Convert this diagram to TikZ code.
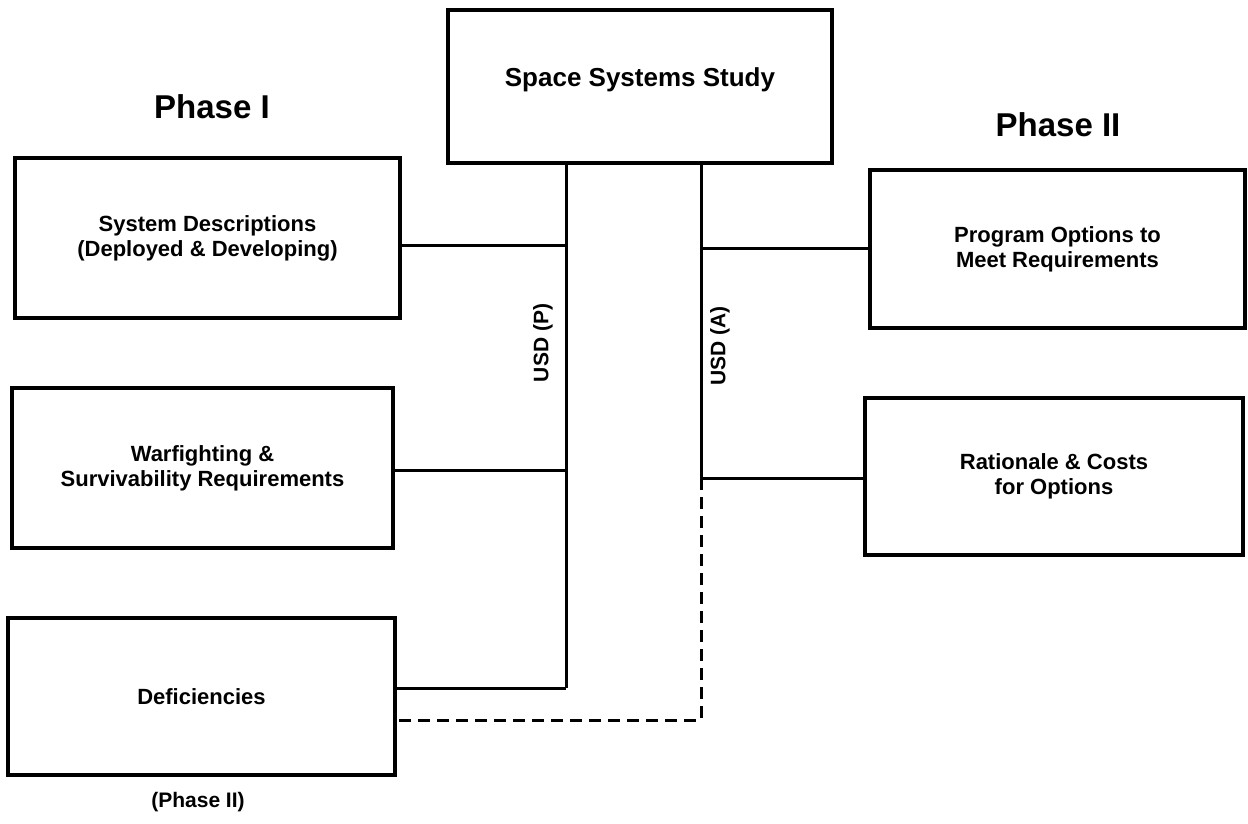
\documentclass[tikz,border=0pt]{standalone}
\usepackage{fontspec}
\setmainfont{Liberation Sans}
\begin{document}
\begin{tikzpicture}[x=1pt,y=-1pt,
  box/.style={draw,line width=3.5pt,rectangle,inner sep=0pt,align=center,font=\bfseries\fontsize{22}{25}\selectfont},
  conn/.style={line width=3pt},
  dconn/.style={line width=3pt,dash pattern=on 12pt off 7pt},
  phase/.style={font=\bfseries\fontsize{33}{38}\selectfont},
  usd/.style={font=\bfseries\fontsize{21}{24}\selectfont,rotate=90}]
\useasboundingbox[fill=white] (0,0) rectangle (1248,824);
% boxes
\node[box,minimum width=384pt,minimum height=153pt] (SSS) at (640,86.5) {};
\node[font=\bfseries\fontsize{26}{30}\selectfont] (SSSt) at (640,80) {Space Systems Study};
\node[box,minimum width=385pt,minimum height=160pt] (SD) at (207.5,238) {System Descriptions\\(Deployed \& Developing)};
\node[box,minimum width=381pt,minimum height=160pt] (WS) at (202.5,468) {Warfighting \&\\Survivability Requirements};
\node[box,minimum width=387pt,minimum height=157pt] (DEF) at (201.5,696.5) {Deficiencies};
\node[box,minimum width=375pt,minimum height=158pt] (PO) at (1057.5,249) {Program Options to\\Meet Requirements};
\node[box,minimum width=378pt,minimum height=157pt] (RC) at (1054,476.5) {Rationale \& Costs\\for Options};
% labels
\node[phase] (P1) at (212,107) {Phase I};
\node[phase] (P2) at (1058,125) {Phase II};
\node[font=\bfseries\fontsize{21}{24}\selectfont] (P2b) at (198,802) {(Phase II)};
\node[usd] (UP) at (543,343) {USD (P)};
\node[usd] (UA) at (720,346) {USD (A)};
% junctions
\coordinate (lSD) at (566,245);
\coordinate (lWS) at (566,470);
\coordinate (lDEF) at (566,688);
\coordinate (rPO) at (701,248);
\coordinate (rRC) at (701,478);
\coordinate (rDEF) at (701,720);
% connectors
\draw[conn] (SSS.south -| lDEF) -- (lDEF);
\draw[conn] (SD.east |- lSD) -- (lSD);
\draw[conn] (WS.east |- lWS) -- (lWS);
\draw[conn] (DEF.east |- lDEF) -- (lDEF);
\draw[conn] (SSS.south -| rRC) -- (rRC);
\draw[conn] (rPO) -- (PO.west |- rPO);
\draw[conn] (rRC) -- (RC.west |- rRC);
\draw[dconn] (rRC) -- (rDEF) -- (DEF.east |- rDEF);
\end{tikzpicture}
\end{document}
